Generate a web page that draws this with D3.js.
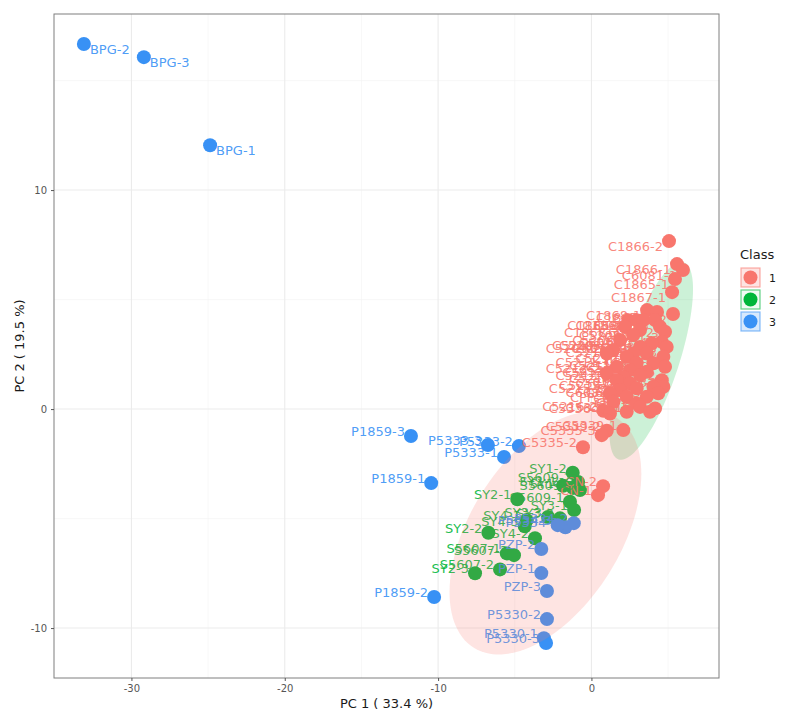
<!DOCTYPE html>
<html><head><meta charset="utf-8">
<script src="https://cdn.jsdelivr.net/npm/d3@7"></script>
<style>body{margin:0;background:#fff} text{font-family:"DejaVu Sans",sans-serif}</style>
</head><body><svg id="c" width="789" height="720"></svg>
<script>
// ---------------- data ----------------
const classes = ["1", "2", "3"];
const classColors = ["#F8766D", "#00B63A", "#3891F5"];

const class1Names = ["C1866-2","C1866-1","C6081-1","C1865-1","C1867-1","C1867-2","C1868-1","C1867-3","C1865-2","C1868-2",
  "C1866-3","C1865-3","C6081-2","C1868-3","C5208-1","C6081-3","C5208-2","C5208-3","C6013-1","C6013-2",
  "C6013-3","C6014-1","C5209-1","C5209-2","C5209-3","C6014-2","C6014-3","C5210-1","C5210-2","C5210-3",
  "C5211-1","C5211-2","C5211-3","C5212-1","C5212-2","C5212-3","C5213-1","C5213-2","C5213-3","C5214-1",
  "C5214-2","C5214-3","C5215-1","C5215-2","C5215-3","C6082-1","C6082-2","C6082-3","CPP-1","CPP-2",
  "CPP-3","C5216-1","C5216-2","C5216-3","C5336-1","C5336-2","C5339-2","C5339-1","C5335-3","C5335-2",
  "CN-2","CN-1"];
const class1PC1 = [5.06,5.58,5.97,5.45,5.26,5.32,3.63,4.28,2.41,2.95,
  3.39,4.15,4.47,2.19,3.17,4.80,2.73,1.87,4.59,3.93,
  3.17,4.91,1.41,1.00,3.61,2.73,4.69,2.30,4.04,2.95,
  1.65,4.80,2.52,3.61,1.00,3.17,2.08,4.59,1.65,2.52,
  4.69,4.04,2.95,1.87,1.21,4.36,2.30,3.61,1.43,2.95,
  3.17,4.15,0.78,3.82,2.30,1.21,1.00,2.08,0.67,-0.55,
  0.76,0.43];
const class1PC2 = [7.67,6.62,6.35,5.94,5.34,4.34,4.52,4.43,4.06,4.06,
  4.06,4.06,3.76,3.76,3.61,3.53,3.38,3.15,3.07,3.00,
  2.84,2.84,2.69,2.54,2.54,2.54,2.39,2.39,2.09,2.09,
  1.93,1.93,1.78,1.70,1.63,1.55,1.47,1.32,1.32,1.17,
  1.02,1.02,0.95,0.87,0.72,0.72,0.56,0.56,0.33,0.26,
  0.10,0.03,-0.08,-0.12,-0.12,-0.20,-0.99,-0.96,-1.19,-1.74,
  -3.52,-3.93];

const class2Names = ["SY1-2","SY1-1","SY1-3","S5609-3","S5609-2","SY2-1","S5609-1","SY3-1","SY3-2","SY3-3",
  "SY4-1","SY4-3","SY2-2","SY4-2","S5607-1","S5607-3","S5607-2","SY2-3"];
const class2PC1 = [-1.22,-1.85,-1.20,-0.75,-0.87,-4.83,-1.40,-1.13,-2.05,-2.83,
  -4.22,-4.35,-6.72,-3.68,-5.52,-5.05,-5.96,-7.59];
const class2PC2 = [-2.91,-3.50,-3.60,-3.70,-3.33,-4.12,-4.23,-4.61,-4.99,-4.93,
  -5.07,-5.35,-5.65,-5.90,-6.59,-6.67,-7.32,-7.50];

const class3Names = ["BPG-2","BPG-3","BPG-1","P1859-3","P1859-1","P1859-2","P5333-3","P5333-2","P5333-1",
  "P5334-1","P5334-2","P5334-3","PZP-2","PZP-1","PZP-3","P5330-2","P5330-1","P5330-3"];
const class3PC1 = [-33.10,-29.19,-24.87,-11.77,-10.45,-10.26,-6.75,-4.73,-5.70,
  -1.70,-1.15,-2.20,-3.27,-3.27,-2.90,-2.90,-3.10,-2.96];
const class3PC2 = [16.67,16.07,12.05,-1.23,-3.38,-8.58,-1.64,-1.69,-2.19,
  -5.40,-5.21,-5.30,-6.39,-7.49,-8.31,-9.59,-10.46,-10.68];

// confidence ellipses: centre and two half-axis vectors (data units)
const ellipsePink = {cx: -3.0, cy: -5.66, ax: 4.67, ay: 5.24, bx: 4.16, by: -1.82, color: "#F8766D"};
const ellipseGreen = {cx: 3.9, cy: 2.2, ax: 2.13, ay: 4.5, bx: 1.70, by: -0.40, color: "#00BA38"};

const xTicks = [-30, -20, -10, 0];
const yTicks = [-10, 0, 10];
const xMinor = [-25, -15, -5, 5];
const yMinor = [-5, 5, 15];
const xTitle = "PC 1 ( 33.4 %)";
const yTitle = "PC 2 ( 19.5 %)";
const legendTitle = "Class";

// ---------------- chart ----------------
const L = 54, R = 719, T = 14, B = 678;
const xDom = [-35.05, 8.32], yDom = [-12.28, 18.04];
const x = d3.scaleLinear().domain(xDom).range([L, R]);
const y = d3.scaleLinear().domain(yDom).range([B, T]);
const svg = d3.select("#c");

const points = [];
[[class1Names, class1PC1, class1PC2], [class2Names, class2PC1, class2PC2], [class3Names, class3PC1, class3PC2]]
  .forEach((arr, ci) => arr[0].forEach((n, i) => points.push({name: n, pc1: arr[1][i], pc2: arr[2][i], cls: ci})));

svg.append("defs").append("clipPath").attr("id", "clip")
  .append("rect").attr("x", L).attr("y", T).attr("width", R - L).attr("height", B - T);

// grid
const g = svg.append("g");
g.selectAll(".xm").data(xMinor).join("line").attr("x1", d => x(d)).attr("x2", d => x(d))
  .attr("y1", T).attr("y2", B).attr("stroke", "#f2f2f2").attr("stroke-width", 0.6);
g.selectAll(".ym").data(yMinor).join("line").attr("y1", d => y(d)).attr("y2", d => y(d))
  .attr("x1", L).attr("x2", R).attr("stroke", "#f2f2f2").attr("stroke-width", 0.6);
g.selectAll(".xM").data(xTicks).join("line").attr("x1", d => x(d)).attr("x2", d => x(d))
  .attr("y1", T).attr("y2", B).attr("stroke", "#ebebeb").attr("stroke-width", 1.1);
g.selectAll(".yM").data(yTicks).join("line").attr("y1", d => y(d)).attr("y2", d => y(d))
  .attr("x1", L).attr("x2", R).attr("stroke", "#ebebeb").attr("stroke-width", 1.1);

function ellipsePath(e) {
  const pts = d3.range(0, 361, 3).map(a => {
    const t = a * Math.PI / 180;
    return [x(e.cx + e.ax * Math.cos(t) + e.bx * Math.sin(t)), y(e.cy + e.ay * Math.cos(t) + e.by * Math.sin(t))];
  });
  return d3.line()(pts) + "Z";
}

const plot = svg.append("g").attr("clip-path", "url(#clip)");
plot.append("path").attr("d", ellipsePath(ellipseGreen)).attr("fill", ellipseGreen.color).attr("fill-opacity", 0.2);

plot.selectAll("circle.pt").data(points).join("circle").attr("class", "pt")
  .attr("cx", d => x(d.pc1)).attr("cy", d => y(d.pc2)).attr("r", 7)
  .attr("fill", d => classColors[d.cls]);

const xMid = (xDom[0] + xDom[1]) / 2, yMid = (yDom[0] + yDom[1]) / 2;
plot.selectAll("text.lab").data(points).join("text").attr("class", "lab")
  .attr("x", d => x(d.pc1) + (d.pc1 < xMid ? 6 : -6))
  .attr("y", d => y(d.pc2) + (d.pc2 > yMid ? 10 : 0))
  .attr("text-anchor", d => d.pc1 < xMid ? "start" : "end")
  .attr("font-size", 13).attr("fill", d => classColors[d.cls]).attr("fill-opacity", 0.9)
  .text(d => d.name);

plot.append("path").attr("d", ellipsePath(ellipsePink)).attr("fill", ellipsePink.color).attr("fill-opacity", 0.2);

// panel border
svg.append("rect").attr("x", L).attr("y", T).attr("width", R - L).attr("height", B - T)
  .attr("fill", "none").attr("stroke", "#7f7f7f").attr("stroke-width", 1);

// axes
const fmt = d => String(d);
const xAxis = svg.append("g").attr("transform", `translate(0,${B})`)
  .call(d3.axisBottom(x).tickValues(xTicks).tickSize(3).tickPadding(4).tickFormat(fmt));
const yAxis = svg.append("g").attr("transform", `translate(${L},0)`)
  .call(d3.axisLeft(y).tickValues(yTicks).tickSize(3).tickPadding(4).tickFormat(fmt));
[xAxis, yAxis].forEach(a => {
  a.select(".domain").remove();
  a.selectAll(".tick line").attr("stroke", "#555");
  a.selectAll(".tick text").attr("fill", "#555").attr("font-size", 10)
    .attr("font-family", "DejaVu Sans, sans-serif");
});

svg.append("text").attr("x", (L + R) / 2).attr("y", B + 30).attr("text-anchor", "middle")
  .attr("font-size", 13).attr("fill", "#1a1a1a").text(xTitle);
svg.append("text").attr("transform", `translate(24,${(T + B) / 2}) rotate(-90)`).attr("text-anchor", "middle")
  .attr("font-size", 13).attr("fill", "#1a1a1a").text(yTitle);

// legend
const lg = svg.append("g").attr("transform", "translate(740,0)");
lg.append("text").attr("x", 0).attr("y", 259).attr("font-size", 13).attr("fill", "#1a1a1a").text(legendTitle);
classes.forEach((c, i) => {
  const yy = 268 + i * 22;
  lg.append("rect").attr("x", 1).attr("y", yy).attr("width", 19).attr("height", 19)
    .attr("fill", classColors[i]).attr("fill-opacity", i === 1 ? 0.06 : 0.2)
    .attr("stroke", classColors[i]).attr("stroke-opacity", 0.6).attr("stroke-width", 1.2);
  lg.append("circle").attr("cx", 10.5).attr("cy", yy + 9.5).attr("r", 7).attr("fill", classColors[i]);
  lg.append("text").attr("x", 29).attr("y", yy + 14).attr("font-size", 11).attr("fill", "#1a1a1a").text(c);
});
</script></body></html>
